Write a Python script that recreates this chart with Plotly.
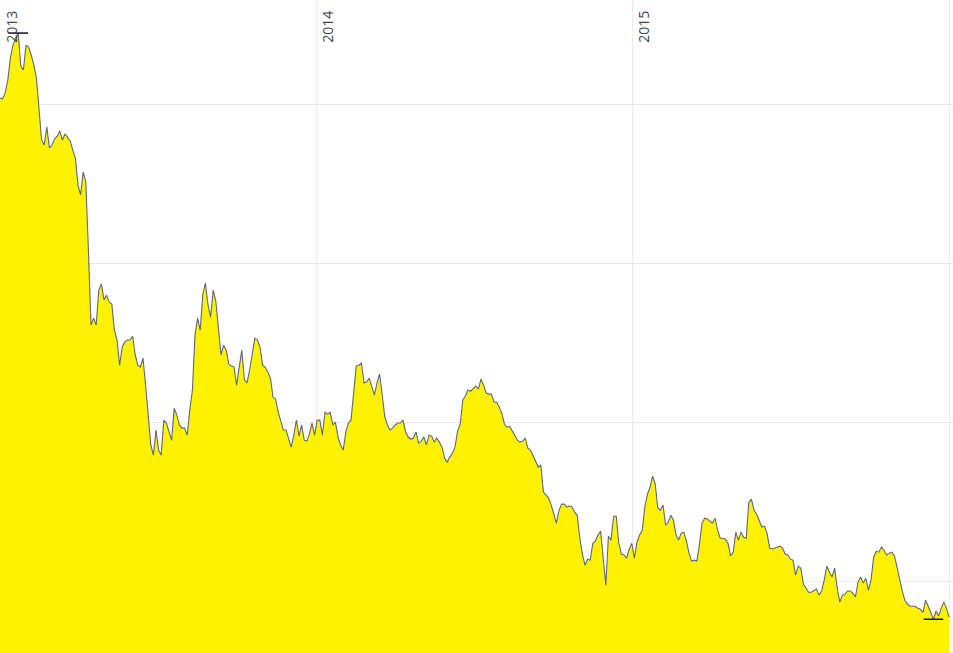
import pandas as pd
import plotly.graph_objects as go

# Silver price (USD/oz), sampled every 3 days from 2013-01-01
start_date = "2013-01-01"
step = "3D"
prices = [
    30.19, 30.16, 30.35, 30.75, 31.45, 31.85, 32.07, 32.23, 31.19, 31.07,
    31.85, 31.79, 31.54, 31.23, 30.82, 29.90, 28.87, 28.71, 29.28, 28.62,
    28.71, 28.90, 28.99, 29.15, 28.87, 29.06, 28.96, 28.84, 28.55, 28.30,
    27.45, 27.14, 27.86, 27.55, 25.41, 23.05, 23.27, 23.05, 24.15, 24.34,
    23.84, 23.99, 23.77, 23.71, 22.89, 22.58, 21.79, 22.36, 22.52, 22.58,
    22.58, 22.70, 22.11, 21.79, 21.73, 22.01, 21.16, 20.13, 19.28, 18.96,
    19.75, 19.12, 18.96, 20.06, 19.97, 19.69, 19.43, 20.44, 20.22, 19.91,
    19.81, 19.81, 19.59, 20.38, 21.01, 22.74, 23.27, 22.89, 24.02, 24.37,
    23.68, 23.30, 24.15, 23.80, 23.05, 22.11, 22.42, 22.26, 21.82, 21.76,
    21.73, 21.16, 21.73, 22.26, 21.32, 21.23, 21.63, 22.11, 22.64, 22.58,
    22.36, 21.79, 21.73, 21.57, 21.38, 20.79, 20.72, 20.31, 20.06, 19.75,
    19.75, 19.50, 19.21, 19.59, 20.06, 19.56, 19.91, 19.43, 19.40, 19.62,
    19.97, 19.59, 20.06, 20.06, 19.59, 20.31, 20.25, 20.31, 19.91, 20.00,
    19.53, 19.28, 19.12, 19.69, 19.97, 20.06, 20.85, 21.76, 21.79, 21.85,
    21.23, 21.26, 21.38, 21.07, 20.85, 21.23, 21.51, 20.85, 20.16, 19.91,
    19.75, 19.81, 19.91, 19.97, 19.97, 20.06, 19.69, 19.53, 19.46, 19.50,
    19.69, 19.34, 19.40, 19.53, 19.28, 19.59, 19.56, 19.37, 19.50, 19.37,
    19.21, 18.87, 18.74, 18.90, 19.02, 19.21, 19.72, 19.94, 20.69, 20.82,
    21.01, 20.97, 21.04, 21.13, 21.04, 21.35, 21.16, 20.91, 20.88, 20.88,
    20.63, 20.63, 20.47, 20.28, 19.94, 19.84, 19.87, 19.72, 19.59, 19.43,
    19.37, 19.40, 19.50, 19.18, 19.12, 18.96, 18.77, 18.58, 18.65, 17.80,
    17.70, 17.61, 17.39, 17.07, 16.82, 17.23, 17.42, 17.42, 17.33, 17.36,
    17.33, 17.17, 17.07, 16.35, 15.85, 15.50, 15.69, 15.66, 16.19, 16.26,
    16.45, 16.57, 15.60, 14.87, 16.41, 16.29, 17.04, 17.04, 16.19, 15.85,
    15.82, 15.72, 16.01, 16.19, 15.72, 16.23, 16.45, 16.60, 17.33, 17.73,
    17.95, 18.30, 18.05, 17.29, 17.23, 17.39, 16.76, 16.85, 17.07, 16.92,
    16.45, 16.29, 16.51, 16.54, 16.26, 15.88, 15.63, 15.66, 15.63, 16.13,
    16.82, 16.98, 16.95, 16.89, 16.82, 16.98, 16.60, 16.35, 16.35, 16.32,
    16.19, 15.79, 15.91, 16.54, 16.29, 16.54, 16.38, 16.35, 17.48, 17.58,
    17.23, 17.11, 16.89, 16.70, 16.73, 16.51, 16.04, 16.01, 16.04, 16.07,
    16.10, 16.04, 15.85, 15.82, 15.69, 15.66, 15.19, 15.47, 15.41, 14.91,
    14.78, 14.65, 14.65, 14.69, 14.75, 14.56, 14.69, 15.03, 15.47, 15.28,
    15.13, 15.41, 14.78, 14.34, 14.56, 14.59, 14.69, 14.69, 14.62, 14.50,
    14.97, 15.13, 14.94, 15.09, 14.72, 15.03, 15.75, 15.94, 15.91, 16.07,
    15.97, 15.82, 15.88, 15.91, 15.79, 15.44, 15.03, 14.69, 14.40, 14.28,
    14.21, 14.21, 14.21, 14.15, 14.12, 14.02, 14.40, 14.21, 14.02, 13.80,
    14.06, 13.90, 14.15, 14.34, 14.15, 13.87,
]
year_ticks = ["2013-01-01", "2014-01-01", "2015-01-01", "2016-01-01"]
year_labels = ["2013", "2014", "2015", "2016"]

dates = pd.date_range(start_date, periods=len(prices), freq=step)
s = pd.Series(prices, index=dates)
imax, imin = s.idxmax(), s.idxmin()

fig = go.Figure()
fig.add_trace(go.Scatter(
    x=dates, y=prices, mode="lines", fill="tozeroy",
    fillcolor="#FFF200", line=dict(color="#5f6a6e", width=1.1),
    hoverinfo="x+y", showlegend=False,
))
fig.add_trace(go.Scatter(
    x=[imax, imin], y=[s[imax], s[imin]], mode="markers",
    marker=dict(symbol="line-ew", size=14, line=dict(color="#111111", width=1.5)),
    showlegend=False, hoverinfo="skip",
))

fig.update_layout(
    width=953, height=653,
    margin=dict(l=0, r=0, t=0, b=0),
    paper_bgcolor="white", plot_bgcolor="white",
    font=dict(family="Open Sans", size=14, color="#555555"),
    xaxis=dict(
        type="date", side="top",
        range=["2013-01-01", "2016-01-05 14:00"],
        tickvals=year_ticks, ticktext=year_labels,
        tickangle=-90, ticklabelposition="inside", ticklabelshift=12,
        showgrid=True, gridcolor="#ebebeb", gridwidth=1,
        zeroline=False, showline=False, ticks="",
    ),
    yaxis=dict(
        range=[12.74, 33.27], dtick=5, tick0=0,
        showgrid=True, gridcolor="#ebebeb", gridwidth=1,
        showticklabels=False, zeroline=False, showline=False, ticks="",
    ),
)

fig.write_html(
    "out.html",
    config={"displayModeBar": False},
    post_script="document.body.style.margin='0';document.body.style.padding='0';",
)
